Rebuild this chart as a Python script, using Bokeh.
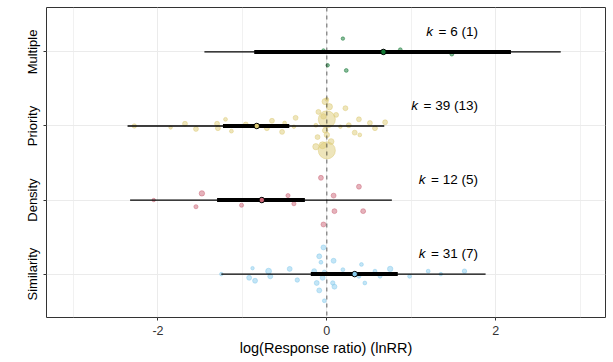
from bokeh.plotting import figure
from bokeh.models import ColumnDataSource, FixedTicker, Span
from bokeh.core.properties import value
from bokeh.embed import file_html
from bokeh.resources import INLINE

# ---------------- data ----------------
categories = ["Similarity", "Density", "Priority", "Multiple"]
colors = ["#88CCEE", "#CC6677", "#DDCC77", "#117733"]
estimate = [0.33, -0.77, -0.83, 0.67]
ci_low = [-0.19, -1.30, -1.23, -0.86]
ci_high = [0.84, -0.26, -0.445, 2.18]
pi_low = [-1.25, -2.33, -2.36, -1.45]
pi_high = [1.88, 0.77, 0.68, 2.77]
k_effects = [31, 12, 39, 6]
k_studies = [7, 5, 13, 1]

# effect sizes (lnRR), jitter offsets and precision for each moderator level
sim_yi = [-1.25, -0.88, -0.92, -0.85, -0.69, -0.67, -0.44, -0.35, -0.04, -0.09, -0.07,
          0.08, -0.15, -0.03, 0.19, 0.41, -0.05, 0.38, 0.57, 0.63, 0.75, 0.98, 1.20,
          1.35, 1.63, -0.12, 0.07, 0.09, -0.09, 0.45, -0.03]
sim_jit = [0.00, 0.08, -0.05, -0.09, 0.04, -0.03, 0.07, -0.08, 0.36, 0.24, 0.16,
           0.18, 0.04, 0.03, 0.06, 0.13, -0.05, -0.03, 0.04, -0.03, 0.07, -0.03, 0.04,
           0.00, 0.04, -0.12, -0.12, -0.17, -0.22, -0.12, -0.36]
sim_prec = [2.5, 2.5, 5, 5, 7, 5, 5, 4, 5, 5, 3, 5, 5, 3, 3, 3, 5, 3, 3, 3, 6, 3, 3,
            2.5, 4, 5, 4, 5, 5, 3, 3]

den_yi = [-2.05, -1.48, -1.55, -1.01, -0.46, -0.39, -0.07, 0.38, 0.08, 0.09, 0.43, -0.04]
den_jit = [0.00, 0.09, -0.09, -0.07, 0.06, -0.05, 0.30, 0.18, 0.06, -0.15, -0.15, -0.33]
den_prec = [2.5, 6, 3.5, 3.5, 3.5, 3.5, 5, 5, 5, 5, 5, 5]

pri_yi = [-2.28, -1.85, -1.68, -1.55, -1.30, -1.29, -1.20, -1.13, -0.96, -0.71, -0.65,
          -0.53, -0.50, -0.39, -0.37, -0.02, 0.00, 0.03, -0.10, 0.00, -0.04, 0.11, 0.22,
          -0.13, 0.16, 0.26, 0.38, 0.51, 0.57, 0.69, 0.33, 0.39, -0.02, 0.00, -0.11,
          0.05, -0.13, -0.05, 0.00]
pri_jit = [0.00, -0.02, 0.03, -0.04, 0.03, -0.03, 0.09, -0.07, 0.02, -0.03, 0.07,
           -0.08, 0.04, -0.01, 0.11, 0.33, 0.36, 0.26, 0.19, 0.09, 0.13, 0.15, 0.24,
           0.01, -0.01, 0.01, 0.09, 0.04, -0.03, 0.05, -0.09, -0.12, -0.06, -0.12, -0.15,
           -0.21, -0.28, -0.26, -0.33]
pri_prec = [4, 2.5, 5, 5, 5, 5, 3, 3, 5, 5, 5, 5, 3, 2.5, 5, 8, 3, 8, 5, 60, 6, 5, 5,
            3, 2.5, 5, 5, 5, 5, 5, 5, 3, 6, 6, 5, 7, 8, 10, 60]

mul_yi = [0.19, 0.87, 1.48, 0.01, 0.23, -0.04]
mul_jit = [0.18, 0.03, -0.03, -0.18, -0.25, 0.02]
mul_prec = [2.5, 3, 3, 2.5, 3, 2.5]

point_sets = [(sim_yi, sim_jit, sim_prec), (den_yi, den_jit, den_prec),
              (pri_yi, pri_jit, pri_prec), (mul_yi, mul_jit, mul_prec)]

x_label = "log(Response ratio) (lnRR)"
x_ticks = [-2, 0, 2]
x_minor = [-3, -1, 1, 3]

# ---------------- figure ----------------
FONT = "Liberation Sans"
p = figure(width=613, height=362, x_range=(-3.32, 3.30), y_range=(0.414, 4.60),
           output_backend="svg", toolbar_location=None,
           min_border_left=46, min_border_right=8, min_border_top=7, min_border_bottom=45)
p.background_fill_color = "white"
p.border_fill_color = "white"
p.outline_line_color = "#333333"
p.outline_line_width = 1

p.xaxis.ticker = FixedTicker(ticks=x_ticks, minor_ticks=x_minor)
p.yaxis.ticker = FixedTicker(ticks=[1, 2, 3, 4])
p.yaxis.major_label_overrides = {i + 1: c for i, c in enumerate(categories)}
p.xaxis.major_label_overrides = {t: str(t) for t in x_ticks}
p.yaxis.major_label_orientation = "vertical"

for ax in (p.xaxis, p.yaxis):
    ax.axis_line_color = None
    ax.major_tick_in = 0
    ax.major_tick_out = 3
    ax.major_tick_line_color = "#333333"
    ax.minor_tick_line_color = None
    ax.major_label_text_font = FONT
p.xaxis.major_label_text_font_size = "12.5px"
p.xaxis.major_label_text_color = "#333333"
p.xaxis.major_label_standoff = 4
p.yaxis.major_label_text_font_size = "13px"
p.yaxis.major_label_text_color = "black"
p.yaxis.major_label_standoff = 3
p.xaxis.axis_label = x_label
p.xaxis.axis_label_text_font = FONT
p.xaxis.axis_label_text_font_size = "14.5px"
p.xaxis.axis_label_text_font_style = "normal"
p.xaxis.axis_label_text_color = "black"
p.xaxis.axis_label_standoff = 2

p.xgrid.grid_line_color = "#EBEBEB"
p.xgrid.grid_line_width = 1
p.xgrid.minor_grid_line_color = "#EBEBEB"
p.xgrid.minor_grid_line_width = 0.7
p.ygrid.grid_line_color = "#EBEBEB"
p.ygrid.grid_line_width = 1

# jittered effect sizes
for i, (yi, jit, prec) in enumerate(point_sets):
    src = ColumnDataSource(dict(
        x=yi,
        y=[i + 1 + j for j in jit],
        d=[2.2 * pr ** 0.5 for pr in prec],
    ))
    p.scatter("x", "y", size="d", source=src, fill_color=colors[i], fill_alpha=0.5,
              line_color=colors[i], line_alpha=0.5, line_width=1)

p.add_layout(Span(location=0, dimension="height", line_color="black", line_alpha=0.6,
                  line_dash="4 4", line_width=1))

pos = [i + 1 for i in range(len(categories))]
summ = ColumnDataSource(dict(y=pos, est=estimate, cil=ci_low, cih=ci_high,
                             pil=pi_low, pih=pi_high, col=colors))
p.segment(x0="pil", x1="pih", y0="y", y1="y", source=summ, line_color="black", line_width=1.3)
p.segment(x0="cil", x1="cih", y0="y", y1="y", source=summ, line_color="black", line_width=4)
p.scatter("est", "y", source=summ, size=5.5, fill_color="col", line_color="black", line_width=1)

# k labels
widths = {"0": .556, "1": .556, "2": .556, "3": .556, "4": .556, "5": .556, "6": .556,
          "7": .556, "8": .556, "9": .556, " ": .278, "=": .584, "(": .333, ")": .333}
FS = 13.5
rest = ["= %d (%d)" % (k, g) for k, g in zip(k_effects, k_studies)]
koff = [-(sum(widths.get(ch, .556) for ch in r) * FS + 5.5) for r in rest]
lab = ColumnDataSource(dict(x=[1.79] * 4, y=[v + 0.28 for v in pos], t=rest, ko=koff,
                            kk=["k"] * 4))
p.text("x", "y", text="t", source=lab, text_align="right", text_baseline="middle",
       text_font=value(FONT), text_font_size="%spx" % FS, text_color="black")
p.text("x", "y", text="kk", source=lab, x_offset="ko", text_align="right",
       text_baseline="middle", text_font=value(FONT), text_font_size="%spx" % FS,
       text_font_style="italic", text_color="black")

open("out.html", "w").write(file_html(p, INLINE))
